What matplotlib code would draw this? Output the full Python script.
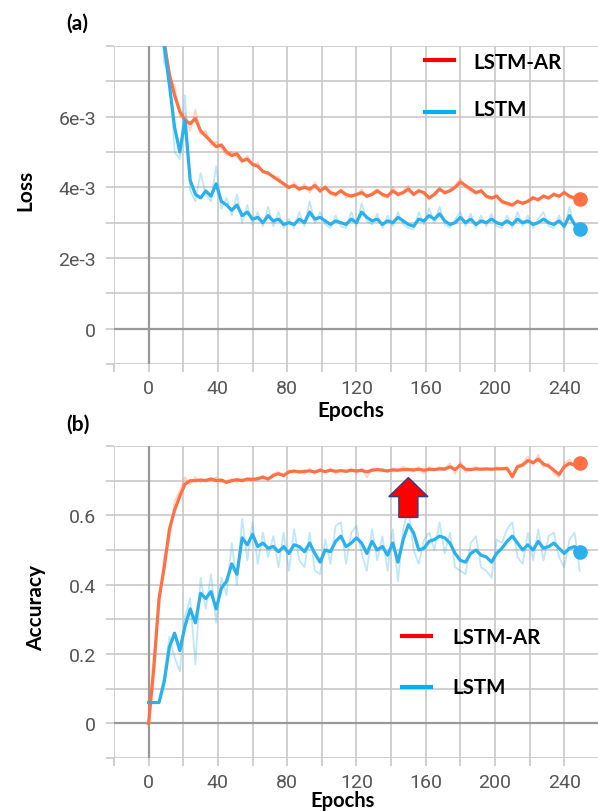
import numpy as np
import matplotlib
matplotlib.use('Agg')
import matplotlib.pyplot as plt
from matplotlib.lines import Line2D
from matplotlib.patches import FancyArrow
from matplotlib.ticker import MultipleLocator, FuncFormatter

# epochs sampled every 3 (0 .. 249)
epochs = np.arange(0, 250, 3)

# loss values in units of 1e-3
loss_ar = [14, 11.5, 9.4, 8.1, 7.2, 6.6, 6.15, 5.9, 5.8, 5.95,
           5.6, 5.45, 5.3, 5.15, 5.2, 5.0, 4.9, 4.95, 4.75, 4.8,
           4.65, 4.6, 4.45, 4.4, 4.3, 4.2, 4.1, 4.0, 4.05, 3.95,
           4.0, 3.95, 4.05, 3.9, 4.0, 3.85, 3.8, 3.9, 3.8, 3.75,
           3.8, 3.85, 3.75, 3.8, 3.9, 3.8, 3.75, 3.9, 3.8, 3.85,
           3.95, 3.8, 3.9, 3.85, 3.7, 3.8, 3.95, 3.85, 3.9, 4.0,
           4.15, 4.05, 3.95, 3.85, 3.9, 3.75, 3.7, 3.75, 3.6, 3.55,
           3.5, 3.6, 3.55, 3.6, 3.7, 3.65, 3.75, 3.7, 3.8, 3.75,
           3.85, 3.75, 3.7, 3.68]
loss_ar_raw = [14.5, 11.0, 9.8, 8.4, 7.0, 6.9, 6.0, 6.1, 5.6, 6.2,
               5.5, 5.6, 5.2, 5.3, 5.1, 4.9, 5.0, 4.85, 4.7, 4.9,
               4.6, 4.7, 4.4, 4.45, 4.25, 4.3, 4.05, 3.95, 4.15, 3.9,
               4.1, 3.85, 4.15, 3.85, 4.05, 3.8, 3.75, 3.95, 3.7, 3.8,
               3.75, 3.95, 3.7, 3.85, 3.95, 3.75, 3.7, 4.0, 3.75, 3.9,
               4.05, 3.75, 3.95, 3.8, 3.65, 3.85, 4.0, 3.8, 3.95, 4.05,
               4.25, 4.0, 3.9, 3.8, 3.95, 3.7, 3.65, 3.8, 3.55, 3.5,
               3.45, 3.65, 3.5, 3.65, 3.75, 3.6, 3.8, 3.65, 3.85, 3.7,
               3.9, 3.7, 3.65, 3.7]
loss_lstm = [15, 12, 9.5, 8.0, 6.9, 5.7, 5.0, 5.9, 4.2, 3.8,
             3.7, 3.9, 3.75, 4.1, 3.6, 3.5, 3.35, 3.5, 3.2, 3.3,
             3.1, 3.15, 3.0, 3.2, 3.05, 3.1, 2.95, 3.0, 2.95, 3.1,
             3.0, 3.3, 3.1, 3.15, 3.05, 2.95, 3.05, 3.0, 2.95, 3.1,
             3.0, 3.3, 3.15, 3.05, 3.1, 2.95, 3.05, 3.0, 3.15, 3.05,
             2.95, 2.9, 3.1, 3.05, 3.2, 3.1, 3.25, 3.05, 2.95, 3.0,
             3.15, 3.0, 3.1, 2.95, 3.05, 3.0, 3.1, 3.0, 2.95, 3.05,
             2.95, 3.1, 3.0, 3.05, 2.95, 3.0, 3.1, 3.0, 2.95, 3.05,
             2.9, 3.2, 2.95, 2.82]
loss_lstm_raw = [16, 11, 10, 7.5, 7.3, 5.0, 4.8, 6.6, 3.9, 3.6,
                 4.4, 3.8, 3.6, 4.6, 3.4, 3.7, 3.2, 3.8, 3.0, 3.5,
                 2.95, 3.3, 2.9, 3.45, 2.9, 3.3, 2.85, 3.1, 2.85, 3.3,
                 2.9, 3.6, 3.0, 3.3, 2.95, 2.85, 3.2, 2.9, 2.85, 3.3,
                 2.9, 3.55, 3.05, 2.95, 3.25, 2.85, 3.2, 2.9, 3.3, 2.95,
                 2.85, 2.8, 3.3, 2.95, 3.4, 3.0, 3.45, 2.95, 2.85, 3.1,
                 3.3, 2.9, 3.25, 2.85, 3.2, 2.9, 3.25, 2.9, 2.85, 3.2,
                 2.85, 3.3, 2.9, 3.2, 2.85, 3.1, 3.3, 2.9, 2.85, 3.2,
                 2.8, 3.45, 2.85, 2.8]

acc_ar = [0.0, 0.16, 0.36, 0.45, 0.56, 0.615, 0.655, 0.69, 0.70, 0.70,
          0.702, 0.70, 0.705, 0.70, 0.702, 0.695, 0.70, 0.703, 0.70, 0.705,
          0.703, 0.706, 0.71, 0.705, 0.715, 0.72, 0.715, 0.725, 0.728, 0.725,
          0.727, 0.728, 0.725, 0.73, 0.726, 0.73, 0.727, 0.729, 0.727, 0.73,
          0.728, 0.73, 0.725, 0.73, 0.732, 0.73, 0.728, 0.731, 0.73, 0.732,
          0.732, 0.731, 0.733, 0.73, 0.733, 0.732, 0.734, 0.733, 0.74, 0.732,
          0.745, 0.733, 0.732, 0.734, 0.733, 0.734, 0.733, 0.734, 0.734, 0.735,
          0.712, 0.74, 0.745, 0.758, 0.752, 0.762, 0.748, 0.742, 0.73, 0.718,
          0.74, 0.75, 0.745, 0.752]
acc_ar_raw = [0.0, 0.2, 0.33, 0.48, 0.53, 0.64, 0.67, 0.71, 0.69, 0.71,
              0.695, 0.705, 0.70, 0.71, 0.695, 0.70, 0.705, 0.695, 0.705, 0.70,
              0.71, 0.70, 0.715, 0.70, 0.72, 0.725, 0.71, 0.73, 0.725, 0.73,
              0.72, 0.735, 0.72, 0.735, 0.725, 0.735, 0.72, 0.73, 0.725, 0.735,
              0.72, 0.735, 0.71, 0.735, 0.73, 0.735, 0.725, 0.735, 0.73, 0.74,
              0.735, 0.725, 0.74, 0.72, 0.74, 0.73, 0.74, 0.735, 0.75, 0.72,
              0.755, 0.725, 0.73, 0.74, 0.73, 0.735, 0.73, 0.74, 0.735, 0.74,
              0.705, 0.745, 0.75, 0.77, 0.745, 0.775, 0.74, 0.75, 0.72, 0.71,
              0.75, 0.76, 0.74, 0.755]
acc_lstm = [0.06, 0.06, 0.06, 0.12, 0.22, 0.26, 0.21, 0.28, 0.33, 0.29,
            0.375, 0.36, 0.38, 0.33, 0.39, 0.41, 0.46, 0.43, 0.535, 0.515,
            0.545, 0.51, 0.52, 0.505, 0.51, 0.495, 0.51, 0.49, 0.515, 0.51,
            0.495, 0.52, 0.49, 0.465, 0.5, 0.495, 0.525, 0.54, 0.51, 0.52,
            0.535, 0.52, 0.49, 0.525, 0.5, 0.51, 0.485, 0.52, 0.465, 0.53,
            0.573, 0.55, 0.5, 0.505, 0.525, 0.53, 0.54, 0.535, 0.52, 0.49,
            0.47, 0.465, 0.49, 0.5, 0.485, 0.48, 0.465, 0.49, 0.505, 0.525,
            0.54, 0.52, 0.5, 0.515, 0.5, 0.525, 0.505, 0.51, 0.52, 0.505,
            0.49, 0.505, 0.51, 0.495]
acc_lstm_raw = [0.06, 0.06, 0.06, 0.14, 0.25, 0.19, 0.15, 0.31, 0.36, 0.17,
                0.42, 0.33, 0.43, 0.29, 0.42, 0.37, 0.52, 0.40, 0.59, 0.47,
                0.58, 0.46, 0.55, 0.48, 0.54, 0.45, 0.55, 0.44, 0.56, 0.47,
                0.45, 0.55, 0.44, 0.43, 0.53, 0.46, 0.57, 0.58, 0.46, 0.55,
                0.57, 0.49, 0.44, 0.56, 0.47, 0.54, 0.44, 0.56, 0.41, 0.56,
                0.62, 0.5, 0.46, 0.53, 0.55, 0.5, 0.58, 0.49, 0.55, 0.45,
                0.44, 0.43, 0.52, 0.54, 0.45, 0.44, 0.42, 0.53, 0.52, 0.56,
                0.58, 0.48, 0.46, 0.55, 0.47, 0.56, 0.47, 0.54, 0.55, 0.48,
                0.45, 0.53, 0.55, 0.44]

names = ['LSTM-AR', 'LSTM']

orange = '#ff7043'
blue = '#2ab0ec'
W, H = 598, 812


def fx(px):
    return px / W


def fy(py):
    return 1 - py / H


def fmt_x(v, pos):
    v = int(round(v))
    return str(v) if v % 40 == 0 and 0 <= v <= 240 else ''


def fmt_loss(v, pos):
    k = int(round(v * 1000))
    if k == 0:
        return '0'
    return '%de-3' % k if k in (2, 4, 6) else ''


def fmt_acc(v, pos):
    k = int(round(v * 10))
    if k == 0:
        return '0'
    return '%.1f' % v if k in (2, 4, 6) else ''


def style(ax, ylim, ystep, yfmt):
    ax.set_xlim(-20, 259.5)
    ax.set_ylim(*ylim)
    ax.xaxis.set_major_locator(MultipleLocator(20))
    ax.yaxis.set_major_locator(MultipleLocator(ystep))
    ax.xaxis.set_major_formatter(FuncFormatter(fmt_x))
    ax.yaxis.set_major_formatter(FuncFormatter(yfmt))
    ax.grid(True, color='#c8c8c8', lw=1.2)
    ax.set_axisbelow(True)
    for s in ax.spines.values():
        s.set_visible(False)
    ax.tick_params(length=6, width=1.2, color='#c8c8c8', labelcolor='#555555',
                   labelsize=14, pad=7)
    ax.tick_params(axis='x', pad=5)
    for lab in ax.get_xticklabels() + ax.get_yticklabels():
        lab.set_fontfamily('Roboto')
    ax.axhline(0, color='#999999', lw=1.6, zorder=1)
    ax.axvline(0, color='#999999', lw=1.6, zorder=1)


def draw(ax, y_ar, y_ar_raw, y_lstm, y_lstm_raw):
    ax.plot(epochs, y_ar_raw, color=orange, lw=1.3, alpha=0.3, zorder=3)
    ax.plot(epochs, y_lstm_raw, color=blue, lw=1.3, alpha=0.3, zorder=3)
    ax.plot(epochs, y_ar, color=orange, lw=2.3, zorder=4)
    ax.plot(epochs, y_lstm, color=blue, lw=2.3, zorder=4)
    ax.plot(epochs[-1], y_ar[-1], 'o', ms=9.5, color=orange, zorder=5, clip_on=False)
    ax.plot(epochs[-1], y_lstm[-1], 'o', ms=9.5, color=blue, zorder=5, clip_on=False)


def legend(x0, x1, xt, ys):
    for name, c, (yl, yt) in zip(names, ['#ff0000', '#00b0f0'], ys):
        fig.add_artist(Line2D([fx(x0), fx(x1)], [fy(yl), fy(yl)], color=c, lw=3,
                              solid_capstyle='butt'))
        fig.text(fx(xt), fy(yt), name, ha='left', va='center', fontsize=14.8,
                 fontweight='bold', family='Lato')


fig = plt.figure(figsize=(W / 100, H / 100), dpi=100)
ax1 = fig.add_axes([fx(114), fy(365), fx(598) - fx(114), (365 - 47) / H])
ax2 = fig.add_axes([fx(114), fy(759), fx(598) - fx(114), (759 - 447) / H])

style(ax1, (-1e-3, 8e-3), 1e-3, fmt_loss)
style(ax2, (-0.1, 0.8), 0.1, fmt_acc)

draw(ax1, np.array(loss_ar) * 1e-3, np.array(loss_ar_raw) * 1e-3,
     np.array(loss_lstm) * 1e-3, np.array(loss_lstm_raw) * 1e-3)
draw(ax2, acc_ar, acc_ar_raw, acc_lstm, acc_lstm_raw)

# red arrow pointing at the LSTM-AR accuracy curve
ax2.add_patch(FancyArrow(150, 0.594, 0, 0.115, width=11, head_width=22.6,
                         head_length=0.055, length_includes_head=True,
                         fc='#ff0000', ec='#2f3f8c', lw=1, zorder=6))

legend(423, 456, 473, [(61, 63), (113, 110)])
legend(400, 433, 452, [(637, 638), (688, 688)])

bold = dict(fontweight='bold', family='Lato', fontsize=15)
fig.text(fx(66), fy(24), '(a)', ha='left', va='center', **bold)
fig.text(fx(66), fy(425), '(b)', ha='left', va='center', **bold)
fig.text(fx(25), fy(190), 'Loss', rotation=90, ha='center', va='center', **bold)
fig.text(fx(36), fy(608), 'Accuracy', rotation=90, ha='center', va='center', **bold)
fig.text(fx(351), fy(411), 'Epochs', ha='center', va='center', **bold)
fig.text(fx(343), fy(811), 'Epochs', ha='center', va='bottom',
         fontweight='bold', family='Lato', fontsize=14.5)

fig.savefig('out.png', dpi=100)
